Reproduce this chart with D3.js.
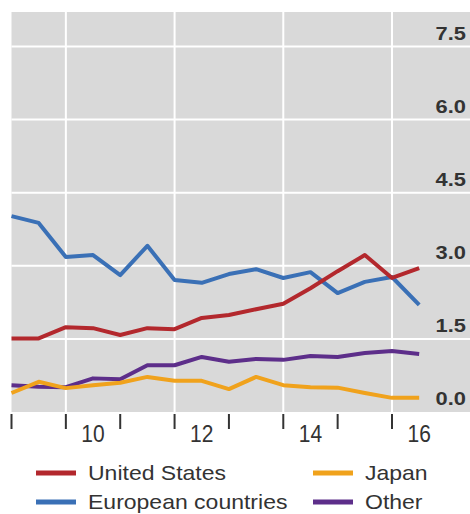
<!DOCTYPE html>
<html>
<head>
<meta charset="utf-8">
<script src="https://cdn.jsdelivr.net/npm/d3@7/dist/d3.min.js"></script>
<style>
  html, body { margin: 0; padding: 0; background: #fff; }
  svg { display: block; font-family: "Liberation Sans", Arial, sans-serif; }
</style>
</head>
<body>
<svg id="chart" width="470" height="514"></svg>
<script>
// ---- data (semi-annual observations) ----
const periods = [2009, 2009.5, 2010, 2010.5, 2011, 2011.5, 2012, 2012.5, 2013, 2013.5, 2014, 2014.5, 2015, 2015.5, 2016, 2016.5];
const unitedStates = [1.51, 1.51, 1.74, 1.72, 1.58, 1.72, 1.70, 1.93, 1.99, 2.11, 2.22, 2.54, 2.89, 3.22, 2.75, 2.95];
const european     = [4.02, 3.88, 3.18, 3.22, 2.81, 3.41, 2.71, 2.65, 2.83, 2.93, 2.75, 2.87, 2.44, 2.67, 2.77, 2.20];
const japan        = [0.39, 0.62, 0.49, 0.55, 0.60, 0.72, 0.64, 0.64, 0.47, 0.72, 0.55, 0.51, 0.50, 0.39, 0.29, 0.29];
const other        = [0.55, 0.52, 0.51, 0.69, 0.67, 0.96, 0.96, 1.13, 1.03, 1.09, 1.07, 1.15, 1.13, 1.21, 1.25, 1.19];

const yTicks = [0, 1.5, 3, 4.5, 6, 7.5];
const yTickLabels = ["0.0", "1.5", "3.0", "4.5", "6.0", "7.5"];
const xYearTicks = [2009, 2010, 2011, 2012, 2013, 2014, 2015, 2016];
const xGridYears = [2010, 2012, 2014, 2016];
const xLabelYears = [2010, 2012, 2014, 2016];
const xLabels = ["10", "12", "14", "16"];

const seriesNames = ["European countries", "United States", "Other", "Japan"];
const seriesColors = { "United States": "#b3282d", "European countries": "#3a70b6", "Japan": "#f0a21c", "Other": "#5d2e8a" };
const seriesValues = { "United States": unitedStates, "European countries": european, "Japan": japan, "Other": other };

// ---- layout ----
const svg = d3.select("#chart");
const plot = { left: 11.5, top: 12, right: 470, bottom: 412 };

const x = d3.scaleLinear().domain([2009, 2016]).range([plot.left, 392]);
const y = d3.scaleLinear().domain([0, 1.5]).range([plot.bottom, plot.bottom - 73.1]);

// background
svg.append("rect")
  .attr("x", plot.left).attr("y", plot.top)
  .attr("width", plot.right - plot.left).attr("height", plot.bottom - plot.top)
  .attr("fill", "#d9d9d9");

// grid
svg.append("g").selectAll("line").data(yTicks.filter(d => d > 0)).join("line")
  .attr("x1", plot.left).attr("x2", plot.right)
  .attr("y1", d => y(d)).attr("y2", d => y(d))
  .attr("stroke", "#fff").attr("stroke-width", 2);
svg.append("g").selectAll("line").data(xGridYears).join("line")
  .attr("x1", d => x(d)).attr("x2", d => x(d))
  .attr("y1", plot.top).attr("y2", plot.bottom)
  .attr("stroke", "#fff").attr("stroke-width", 2);

// y labels (sitting above gridlines, inside plot on the right)
svg.append("g").selectAll("text").data(yTicks).join("text")
  .attr("transform", d => `translate(466,${y(d) - 7}) scale(1.15,1)`)
  .attr("text-anchor", "end")
  .attr("font-size", 19)
  .attr("font-weight", 600)
  .attr("fill", "#333")
  .text((d, i) => yTickLabels[i]);

// x ticks
svg.append("g").selectAll("line").data(xYearTicks).join("line")
  .attr("x1", d => x(d)).attr("x2", d => x(d))
  .attr("y1", 414).attr("y2", 429)
  .attr("stroke", "#333").attr("stroke-width", 2);

// x labels, centred within year spans
svg.append("g").selectAll("text").data(xLabelYears).join("text")
  .attr("transform", d => `translate(${x(d + 0.5)},442) scale(1,1.15)`)
  .attr("text-anchor", "middle")
  .attr("font-size", 21)
  .attr("fill", "#333")
  .text((d, i) => xLabels[i]);

// lines
const line = d3.line().x((d, i) => x(periods[i])).y(d => y(d));
svg.append("g").selectAll("path").data(seriesNames).join("path")
  .attr("d", name => line(seriesValues[name]))
  .attr("fill", "none")
  .attr("stroke", name => seriesColors[name])
  .attr("stroke-width", 4)
  .attr("stroke-linejoin", "round")
  .attr("stroke-linecap", "butt");

// legend
const legendItems = [
  { name: "United States", col: 0, row: 0 },
  { name: "Japan", col: 1, row: 0 },
  { name: "European countries", col: 0, row: 1 },
  { name: "Other", col: 1, row: 1 }
];
const colX = [36, 313];
const rowY = [473, 502];
const lg = svg.append("g").selectAll("g").data(legendItems).join("g")
  .attr("transform", d => `translate(${colX[d.col]},${rowY[d.row]})`);
lg.append("rect").attr("x", 0).attr("y", -2.5).attr("width", 40).attr("height", 5)
  .attr("fill", d => seriesColors[d.name]);
lg.append("text")
  .attr("transform", "translate(52,7) scale(1.15,1)")
  .attr("font-size", 20)
  .attr("fill", "#333")
  .text(d => d.name);
</script>
</body>
</html>
